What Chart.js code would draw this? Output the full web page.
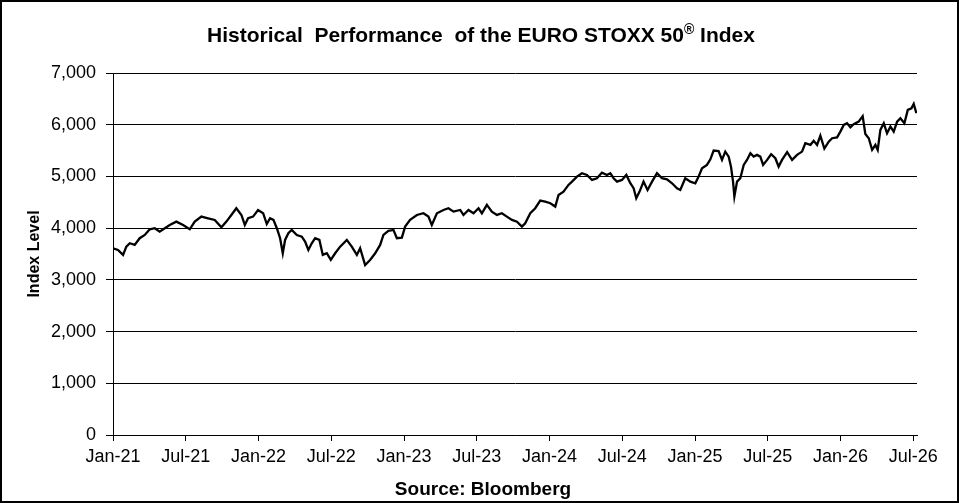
<!DOCTYPE html>
<html lang="en">
<head>
    <title>EURO STOXX 50 Historical Performance</title>
    <script src="https://cdn.jsdelivr.net/npm/chart.js"></script>
    <style>
        html, body { margin: 0; padding: 0; background: #fff; }
    </style>
</head>
<body>
    <canvas id="myChart" width="959" height="503"></canvas>
    <script>
        // months since Jan-21
        const xMonths = [
            0, 0.41, 0.83, 1.10, 1.38, 1.79, 2.20, 2.62, 3.03, 3.44, 3.85, 4.27, 4.68, 5.22, 5.78,
            6.33, 6.74, 7.29, 7.84, 8.39, 8.94, 9.35, 9.76, 10.17, 10.59, 10.87, 11.14, 11.55, 11.96,
            12.38, 12.68, 12.95, 13.23, 13.51, 13.78, 14.00, 14.19, 14.46, 14.74, 15.16, 15.57, 15.84,
            16.11, 16.39, 16.67, 17.02, 17.30, 17.63, 17.96, 18.32, 18.73, 19.28, 19.69, 20.11, 20.38,
            20.79, 21.20, 21.62, 22.03, 22.30, 22.71, 23.13, 23.41, 23.82, 24.09, 24.50, 25.06, 25.60,
            26.01, 26.29, 26.71, 27.25, 27.66, 28.08, 28.63, 28.90, 29.31, 29.73, 30.14, 30.42, 30.83,
            31.24, 31.66, 32.07, 32.48, 32.90, 33.31, 33.72, 33.99, 34.41, 34.82, 35.23, 35.64, 36.06,
            36.47, 36.74, 37.15, 37.56, 37.85, 38.26, 38.67, 39.08, 39.50, 39.91, 40.32, 40.73, 41.01,
            41.28, 41.56, 41.97, 42.33, 42.66, 42.93, 43.15, 43.42, 43.75, 44.08, 44.45, 44.86, 45.27,
            45.68, 46.10, 46.51, 46.78, 47.19, 47.61, 48.02, 48.29, 48.57, 48.98, 49.26, 49.53, 49.94,
            50.22, 50.49, 50.77, 50.96, 51.13, 51.24, 51.46, 51.73, 52.01, 52.28, 52.56, 52.83, 53.11,
            53.38, 53.61, 53.94, 54.27, 54.62, 54.89, 55.17, 55.59, 56.00, 56.41, 56.82, 57.09, 57.51,
            57.78, 58.06, 58.33, 58.66, 59.02, 59.30, 59.71, 59.98, 60.26, 60.53, 60.81, 61.08, 61.49,
            61.82, 62.04, 62.32, 62.60, 62.87, 63.06, 63.28, 63.56, 63.83, 64.11, 64.38, 64.66, 64.93,
            65.26, 65.54, 65.84, 66.03, 66.25
        ];
        const indexLevels = [
            3611, 3578, 3482, 3642, 3708, 3675, 3805, 3868, 3978, 3998, 3932, 3998, 4062, 4126, 4062,
            3978, 4126, 4223, 4191, 4159, 4017, 4126, 4255, 4385, 4255, 4062, 4191, 4223, 4352,
            4288, 4080, 4191, 4159, 3998, 3805, 3514, 3772, 3901, 3965, 3868, 3836, 3739,
            3578, 3708, 3805, 3772, 3482, 3514, 3385, 3514, 3642, 3772, 3642, 3482, 3611,
            3288, 3385, 3514, 3675, 3868, 3946, 3965, 3805, 3817, 4030, 4159, 4255, 4288,
            4223, 4062, 4288, 4352, 4385, 4320, 4352, 4255, 4352, 4288, 4385, 4288, 4449,
            4320, 4255, 4288, 4223, 4159, 4126, 4030, 4095, 4288, 4385, 4532, 4513, 4481,
            4417, 4642, 4706, 4836, 4900, 4997, 5062, 5029, 4932, 4965, 5074, 5029, 5062,
            4965, 4900, 4932, 5029, 4868, 4772, 4578, 4706, 4900, 4739, 4900, 5062, 4965,
            4945, 4868, 4772, 4739, 4965, 4900, 4868, 4997, 5159, 5223, 5330, 5500, 5490,
            5319, 5480, 5383, 5190, 4900, 4610, 4900, 4965, 5223, 5319, 5449, 5383, 5416,
            5383, 5223, 5319, 5429, 5352, 5190, 5319, 5468, 5319, 5416, 5480, 5642, 5609,
            5690, 5609, 5790, 5540, 5673, 5739, 5755, 5867, 5996, 6029, 5950, 6009, 6060,
            6165, 5820, 5739, 5513, 5609, 5513, 5899, 6029, 5835, 5964, 5867, 6060, 6125,
            6029, 6286, 6318, 6402, 6222
        ];
        const xTickLabels = ['Jan-21', 'Jul-21', 'Jan-22', 'Jul-22', 'Jan-23', 'Jul-23',
            'Jan-24', 'Jul-24', 'Jan-25', 'Jul-25', 'Jan-26', 'Jul-26'];
        const yTickValues = [0, 1000, 2000, 3000, 4000, 5000, 6000, 7000];

        const FONT = "'Liberation Sans', Arial, sans-serif";
        Chart.defaults.font.family = FONT;
        Chart.defaults.color = '#000';

        // title with superscript ®, source line and outer frame
        const decorations = {
            id: 'decorations',
            afterDraw(chart) {
                const ctx = chart.ctx;
                ctx.save();
                ctx.fillStyle = '#000';
                ctx.textBaseline = 'alphabetic';

                const main = 'Historical  Performance  of the EURO STOXX 50';
                const sup = '\u00AE';
                const tail = ' Index';
                ctx.font = 'bold 21px ' + FONT;
                const wMain = ctx.measureText(main).width;
                const wTail = ctx.measureText(tail).width;
                ctx.font = 'bold 14px ' + FONT;
                const wSup = ctx.measureText(sup).width;
                let x = 481 - (wMain + wSup + wTail) / 2;
                const y = 42;
                ctx.font = 'bold 21px ' + FONT;
                ctx.textAlign = 'left';
                ctx.fillText(main, x, y);
                x += wMain;
                ctx.font = 'bold 14px ' + FONT;
                ctx.fillText(sup, x, y - 8);
                x += wSup;
                ctx.font = 'bold 21px ' + FONT;
                ctx.fillText(tail, x, y);

                ctx.font = 'bold 19px ' + FONT;
                ctx.textAlign = 'center';
                ctx.fillText('Source: Bloomberg', 483, 495);

                ctx.strokeStyle = '#000';
                ctx.lineWidth = 2;
                ctx.strokeRect(1, 1, chart.width - 2, chart.height - 2);
                ctx.restore();
            }
        };

        const ctx = document.getElementById('myChart').getContext('2d');
        const chart = new Chart(ctx, {
            type: 'line',
            data: {
                datasets: [{
                    label: 'EURO STOXX 50',
                    data: xMonths.map((m, i) => ({ x: m, y: indexLevels[i] })),
                    borderColor: '#000',
                    borderWidth: 2.3,
                    pointRadius: 0,
                    tension: 0,
                    fill: false
                }]
            },
            options: {
                responsive: false,
                animation: false,
                layout: { padding: { left: 0, top: 73, right: 42, bottom: 0 } },
                plugins: {
                    legend: { display: false },
                    tooltip: { enabled: false }
                },
                scales: {
                    x: {
                        type: 'linear',
                        min: 0,
                        max: 66.3,
                        afterBuildTicks: (scale) => {
                            scale.ticks = xTickLabels.map((_, i) => ({ value: i * 6 }));
                        },
                        afterFit: (scale) => { scale.height = 68; },
                        grid: {
                            drawOnChartArea: false,
                            color: '#000',
                            tickLength: 6,
                            tickColor: '#000'
                        },
                        border: { color: '#000', width: 1 },
                        ticks: {
                            padding: 5,
                            maxRotation: 0,
                            autoSkip: false,
                            font: { size: 18 },
                            callback: (value, index) => xTickLabels[index]
                        }
                    },
                    y: {
                        min: 0,
                        max: 7000,
                        afterBuildTicks: (scale) => {
                            scale.ticks = yTickValues.map(v => ({ value: v }));
                        },
                        afterFit: (scale) => { scale.width = 113; },
                        grid: {
                            color: '#000',
                            tickLength: 7,
                            tickColor: '#000'
                        },
                        border: { color: '#000', width: 1 },
                        ticks: {
                            padding: 10,
                            font: { size: 18 },
                            callback: (value) => value.toLocaleString('en-US')
                        },
                        title: {
                            display: true,
                            text: 'Index Level',
                            font: { size: 16, weight: 'bold' },
                            padding: { top: 25, bottom: 0 }
                        }
                    }
                }
            },
            plugins: [decorations]
        });
    </script>
</body>
</html>
